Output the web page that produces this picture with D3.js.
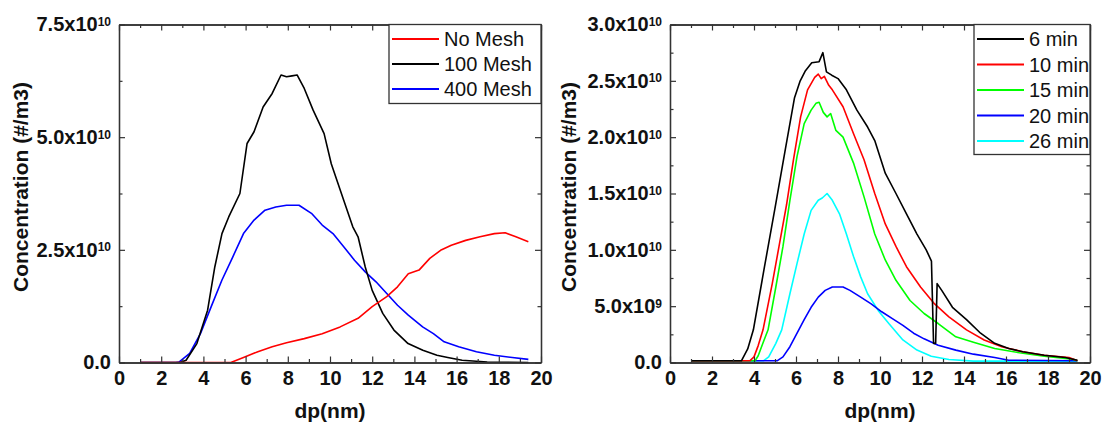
<!DOCTYPE html>
<html>
<head>
<meta charset="utf-8">
<script src="https://cdn.jsdelivr.net/npm/d3@7"></script>
<style>
  body { margin: 0; background: #fff; }
  svg text { font-family: Arial, "Liberation Sans", sans-serif; }
</style>
</head>
<body>
<script>
// concentrations are in units of 1e9 #/m3, dp in nm
var UNIT = 1e9;

var noMesh = [[1,0],[5.3,0],[5.9,1.1],[6.58,2.4],[7.26,3.5],[7.94,4.4],[8.78,5.3],[9.63,6.4],[10.48,7.9],
  [11.33,9.8],[12.0,12.4],[12.69,14.6],[13.2,16.8],[13.71,19.7],[14.22,20.5],[14.73,23.1],[15.24,24.9],
  [15.75,26],[16.43,27.1],[17.11,27.9],[17.79,28.6],[18.3,28.8],[18.81,27.9],[19.4,26.8]];
var mesh100 = [[1,0],[2.9,0],[3.18,0.5],[3.69,4.2],[4.2,11.6],[4.54,21.2],[4.88,28.6],[5.2,32.3],[5.73,37.5],
  [6.07,48.6],[6.4,51.2],[6.83,56.7],[7.26,59.7],[7.68,63.8],[7.94,63.4],[8.2,63.6],[8.44,63.8],[8.78,60.8],
  [9.2,56],[9.72,50.8],[10.06,44.1],[10.65,36],[11.08,30.1],[11.33,27.9],[11.67,21.2],[12.0,16],[12.5,10.9],
  [13.03,7.2],[13.7,4.2],[14.4,2.7],[15.07,1.6],[15.58,1.1],[16.26,0.5],[17.45,0.1],[19.4,0]];
var mesh400 = [[1,0],[2.7,0],[2.84,0.1],[3.35,2],[3.86,6.4],[4.37,12.4],[4.88,18.3],[5.39,23.4],[5.9,28.6],
  [6.4,31.6],[6.92,33.8],[7.43,34.5],[7.94,34.9],[8.53,34.9],[9.12,33.1],[9.63,30.5],[10.14,28.6],[10.65,25.7],
  [11.16,22.7],[11.67,20.1],[12.18,17.9],[12.69,15.3],[13.2,12.7],[13.71,10.5],[14.39,7.9],[14.9,6.4],
  [15.41,4.6],[16.1,3.5],[16.94,2.4],[17.79,1.6],[18.64,1.1],[19.4,0.7]];

var min6 = [[1,0.15],[3.4,0.15],[3.7,1.2],[3.97,2.9],[4.5,8.5],[5.0,13.7],[5.5,19],[5.93,23.5],[6.2,25],
  [6.45,25.9],[6.75,26.6],[7.1,26.7],[7.28,27.5],[7.45,25.8],[7.7,25.5],[8.0,25.2],[8.4,24.2],[8.9,22.4],
  [9.41,20.9],[9.75,19.7],[10.25,16.8],[10.76,15],[11.26,13.2],[11.76,11.4],[12.2,10],[12.45,9.0],[12.55,1.7],
  [12.65,1.7],[12.72,7.0],[12.94,6.4],[13.45,4.9],[14.12,3.8],[14.79,2.6],[15.46,1.7],[16.13,1.24],[16.8,0.95],
  [17.82,0.65],[18.82,0.44],[19.4,0.2]];
var min10 = [[1,0.15],[3.8,0.15],[4.0,0.5],[4.2,1.5],[4.43,2.9],[4.87,7],[5.21,10.5],[5.55,14],[5.88,18],
  [6.22,21.8],[6.55,24.2],[6.89,25.3],[7.06,25.6],[7.2,25.2],[7.35,25.4],[7.56,24.6],[7.73,24.2],[8.24,22.7],
  [8.74,20.3],[9.24,18],[9.75,15],[10.25,12.3],[10.76,10.3],[11.26,8.5],[11.93,6.7],[12.6,5.2],[13.28,4.05],
  [14.12,2.9],[14.96,2.0],[15.8,1.4],[16.8,0.95],[17.82,0.65],[19.0,0.44],[19.4,0.15]];
var min15 = [[1,0.15],[4.05,0.15],[4.2,0.6],[4.4,1.6],[4.67,2.9],[5.04,6.7],[5.38,10.3],[5.71,14.4],[6.05,18.3],
  [6.39,21.2],[6.72,22.4],[6.95,23],[7.1,23.1],[7.3,22.2],[7.48,21.8],[7.65,22.1],[7.9,20.6],[8.24,20],
  [8.74,17.7],[9.24,14.7],[9.75,11.4],[10.25,9.1],[10.76,7.3],[11.43,5.5],[12.1,4.35],[12.77,3.46],
  [13.61,2.28],[14.45,1.8],[15.46,1.24],[16.64,0.86],[17.82,0.56],[19.16,0.3],[19.4,0.15]];
var min20 = [[1,0.15],[5.1,0.15],[5.38,0.5],[5.71,1.4],[6.05,2.6],[6.39,3.8],[6.72,4.9],[7.06,5.8],[7.39,6.4],
  [7.73,6.7],[8.24,6.7],[8.57,6.4],[9.08,5.8],[9.58,5.2],[10.08,4.5],[10.59,3.9],[11.09,3.3],[11.6,2.6],
  [12.1,2.1],[12.77,1.54],[13.61,1.1],[14.45,0.74],[15.46,0.44],[16.13,0.2],[19.4,0.15]];
var min26 = [[1,0.15],[4.45,0.15],[4.7,0.5],[5.04,1.7],[5.32,2.9],[5.71,6.1],[6.05,8.8],[6.39,11.4],[6.72,13.5],
  [7.06,14.4],[7.25,14.6],[7.48,15],[7.73,14.4],[8.07,13.2],[8.4,11.4],[8.74,9.4],[9.08,7.6],[9.41,6.1],
  [9.92,4.6],[10.42,3.46],[11.09,2.0],[11.76,1.1],[12.44,0.56],[13.28,0.27],[14.45,0.12],[19.4,0.12]];

var leftNames = ["No Mesh", "100 Mesh", "400 Mesh"];
var leftColors = ["#ff0000", "#000000", "#0000ff"];
var rightNames = ["6 min", "10 min", "15 min", "20 min", "26 min"];
var rightColors = ["#000000", "#ff0000", "#00ff00", "#0000ff", "#00ffff"];

var xMajor = [0, 2, 4, 6, 8, 10, 12, 14, 16, 18, 20];
var xMinor = [1, 3, 5, 7, 9, 11, 13, 15, 17, 19];
var leftYMajor = [0, 2.5e10, 5e10, 7.5e10];
var leftYMinor = [1.25e10, 3.75e10, 6.25e10];
var rightYMajor = [0, 5e9, 1e10, 1.5e10, 2e10, 2.5e10, 3e10];
var rightYMinor = [2.5e9, 7.5e9, 1.25e10, 1.75e10, 2.25e10, 2.75e10];

var svg = d3.select("body").append("svg").attr("width", 1104).attr("height", 424);

drawPanel({
  left: 119, top: 24.5, width: 422, height: 338, yMax: 7.5e10,
  yMajor: leftYMajor, yMinor: leftYMinor,
  series: [mesh400, mesh100, noMesh], order: [2, 1, 0],
  names: leftNames, colors: leftColors,
  legend: { x: 389, w: 152, h: 79, row0: 39, rowStep: 25 },
  titleX: 28
});

drawPanel({
  left: 670, top: 24.5, width: 420, height: 338, yMax: 3e10,
  yMajor: rightYMajor, yMinor: rightYMinor,
  series: [min26, min20, min15, min10, min6], order: [4, 3, 2, 1, 0],
  names: rightNames, colors: rightColors,
  legend: { x: 974, w: 116, h: 130, row0: 39, rowStep: 25.5 },
  titleX: 576
});

function fmt(v) {
  if (v === 0) return { main: "0.0", sup: "" };
  var e = Math.floor(Math.log10(v) + 1e-9);
  return { main: (v / Math.pow(10, e)).toFixed(1) + "x10", sup: String(e) };
}

function drawPanel(p) {
  var x = d3.scaleLinear().domain([0, 20]).range([p.left, p.left + p.width]);
  var y = d3.scaleLinear().domain([0, p.yMax]).range([p.top + p.height, p.top]);
  var bottom = p.top + p.height, right = p.left + p.width;
  var g = svg.append("g");

  var line = d3.line()
    .x(function(d) { return x(d[0]); })
    .y(function(d) { return y(d[1] * UNIT); });

  // curves, drawn so the first legend entry ends on top
  p.series.forEach(function(s, i) {
    g.append("path").datum(s)
      .attr("d", line)
      .attr("fill", "none")
      .attr("stroke", p.colors[p.order[i]])
      .attr("stroke-width", 1.6)
      .attr("stroke-linejoin", "round");
  });

  // axes with inward ticks
  function styleAxis(sel) {
    sel.selectAll("path.domain").attr("stroke", "#333").attr("stroke-width", 1.3);
    sel.selectAll(".tick line").attr("stroke", "#333").attr("stroke-width", 1.2);
  }
  var gb = g.append("g").attr("transform", "translate(0," + bottom + ")")
    .call(d3.axisBottom(x).tickValues(xMajor).tickSize(-6).tickSizeOuter(0).tickPadding(8).tickFormat(d3.format("d")));
  gb.selectAll(".tick text").attr("font-size", 20).attr("font-weight", "bold").attr("fill", "#111");
  g.append("g").attr("transform", "translate(0," + bottom + ")")
    .call(d3.axisBottom(x).tickValues(xMinor).tickSize(-3.5).tickSizeOuter(0).tickFormat(""))
    .call(styleAxis);
  styleAxis(gb);

  var gt = g.append("g").attr("transform", "translate(0," + p.top + ")")
    .call(d3.axisTop(x).tickValues(xMajor).tickSize(-6).tickSizeOuter(0).tickFormat(""));
  styleAxis(gt);
  g.append("g").attr("transform", "translate(0," + p.top + ")")
    .call(d3.axisTop(x).tickValues(xMinor).tickSize(-3.5).tickSizeOuter(0).tickFormat(""))
    .call(styleAxis);

  var gl = g.append("g").attr("transform", "translate(" + p.left + ",0)")
    .call(d3.axisLeft(y).tickValues(p.yMajor).tickSize(-6).tickSizeOuter(0).tickPadding(8));
  styleAxis(gl);
  gl.selectAll(".tick text").each(function(d) {
    var t = d3.select(this).text("")
      .attr("font-size", 20).attr("font-weight", "bold").attr("fill", "#111");
    var f = fmt(d);
    t.append("tspan").text(f.main);
    if (f.sup) t.append("tspan").attr("font-size", 12).attr("dy", "-0.45em").text(f.sup);
  });
  g.append("g").attr("transform", "translate(" + p.left + ",0)")
    .call(d3.axisLeft(y).tickValues(p.yMinor).tickSize(-3.5).tickSizeOuter(0).tickFormat(""))
    .call(styleAxis);

  var gr = g.append("g").attr("transform", "translate(" + right + ",0)")
    .call(d3.axisRight(y).tickValues(p.yMajor).tickSize(-6).tickSizeOuter(0).tickFormat(""));
  styleAxis(gr);
  g.append("g").attr("transform", "translate(" + right + ",0)")
    .call(d3.axisRight(y).tickValues(p.yMinor).tickSize(-3.5).tickSizeOuter(0).tickFormat(""))
    .call(styleAxis);

  // titles
  g.append("text")
    .attr("x", (p.left + right) / 2).attr("y", 418)
    .attr("text-anchor", "middle").attr("font-size", 21).attr("font-weight", "bold").attr("fill", "#111")
    .text("dp(nm)");
  g.append("text")
    .attr("transform", "translate(" + p.titleX + ",187) rotate(-90)")
    .attr("text-anchor", "middle").attr("font-size", 21).attr("font-weight", "bold").attr("fill", "#111")
    .text("Concentration (#/m3)");

  // legend
  var lg = g.append("g");
  lg.append("rect")
    .attr("x", p.legend.x).attr("y", p.top)
    .attr("width", p.legend.w).attr("height", p.legend.h)
    .attr("fill", "#fff").attr("stroke", "#333").attr("stroke-width", 1.3);
  p.names.forEach(function(name, i) {
    var ry = p.legend.row0 + i * p.legend.rowStep;
    lg.append("line")
      .attr("x1", p.legend.x + 3).attr("x2", p.legend.x + 50)
      .attr("y1", ry).attr("y2", ry)
      .attr("stroke", p.colors[i]).attr("stroke-width", 1.8);
    lg.append("text")
      .attr("x", p.legend.x + 55).attr("y", ry + 7)
      .attr("font-size", 20).attr("fill", "#111")
      .text(name);
  });
}
</script>
</body>
</html>
